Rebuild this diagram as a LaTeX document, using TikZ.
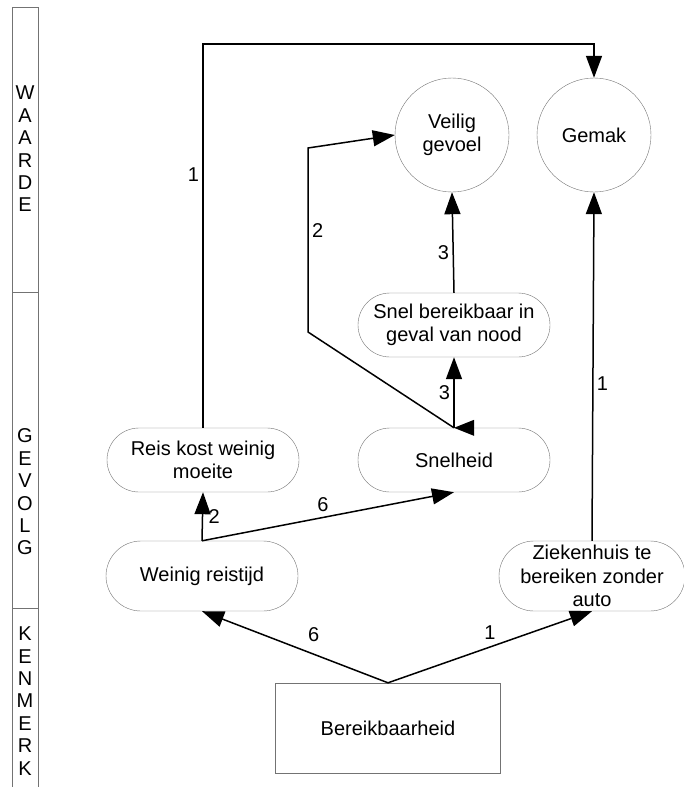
\documentclass[tikz,border=0pt]{standalone}
\usepackage{fontspec}
\setmainfont{Liberation Sans}
\usetikzlibrary{arrows.meta,positioning}

\begin{document}
\begin{tikzpicture}[x=1pt, y=-1pt,
  every node/.style={font=\fontsize{20}{23.5}\selectfont},
  pill/.style={rectangle, draw=black!55, thin, rounded corners=32pt,
    minimum width=192pt, minimum height=64pt, align=center, inner sep=0pt},
  goal/.style={circle, draw=black!55, thin, minimum size=114pt,
    align=center, inner sep=0pt},
  attr/.style={rectangle, draw=black!55, thin, minimum width=225pt,
    minimum height=90pt},
  lvl/.style={align=center, inner sep=0pt, font=\fontsize{20}{22.4}\selectfont},
  arr/.style={-{Triangle[length=22pt, width=16pt]}, line width=1.5pt},
]
\useasboundingbox (0,0) rectangle (683,787);

% levels
\draw[black!55] (12,787) -- (12,7) -- (38,7) -- (38,787);
\draw[black!55] (12,292) -- (38,292);
\draw[black!55] (12,608) -- (38,608);
\node[lvl] (waarde) at (25,149) {W\\A\\A\\R\\D\\E};
\node[lvl] (gevolg) at (25,492) {G\\E\\V\\O\\L\\G};
\node[lvl] (kenmerk) at (25,701) {K\\E\\N\\M\\E\\R\\K};

% nodes
\node[goal] (veilig) at (452,135) {Veilig\\gevoel};
\node[goal] (gemak) at (594,135) {Gemak};
\node[pill] (nood) at (454,325) {Snel bereikbaar in\\geval van nood};
\node[pill] (moeite) at (203,460) {Reis kost weinig\\moeite};
\node[pill] (snelheid) at (454,460) {Snelheid};
\node[pill, minimum height=70pt, rounded corners=35pt] (reistijd) at (202,576) {Weinig reistijd};
\node[pill, minimum width=186pt, minimum height=70pt, rounded corners=35pt] (zonderauto) at (592,576)
  {Ziekenhuis te\\bereiken zonder\\auto};
\node[attr] (bereik) at (388,728) {Bereikbaarheid};

\coordinate (kinkA) at (308,332);
\coordinate (kinkB) at (308,148);
\coordinate (top) at (0,44);

% links
\draw[arr] (bereik.north) -- node[above=8pt, pos=0.4] {6} (reistijd.south);
\draw[arr] (bereik.north) -- node[above=3pt, pos=0.5] {1} (zonderauto.south);
\draw[arr] (reistijd.north) -- node[right=2pt] {2} (moeite.south);
\draw[arr] (reistijd.north) -- node[above=2pt, pos=0.48] {6} (snelheid.south);
\draw[arr] (moeite.north) |- node[left, pos=0.33] {1} (gemak.north |- top) -- (gemak.north);
\draw[arr] (snelheid.north) -- node[left] {3} (nood.south);
\draw[arr] (nood.north) -- node[left, pos=0.4] {3} (veilig.south);
\draw[arr] (zonderauto.north) -- node[right, pos=0.45] {1} (gemak.south);
\draw[arr] (snelheid.north) -- (kinkA) -- node[right, pos=0.55] {2} (kinkB) -- (veilig.west);
\fill (snelheid.north) -- ++(20,-8) -- ++(0,16) -- cycle;

\end{tikzpicture}
\end{document}
